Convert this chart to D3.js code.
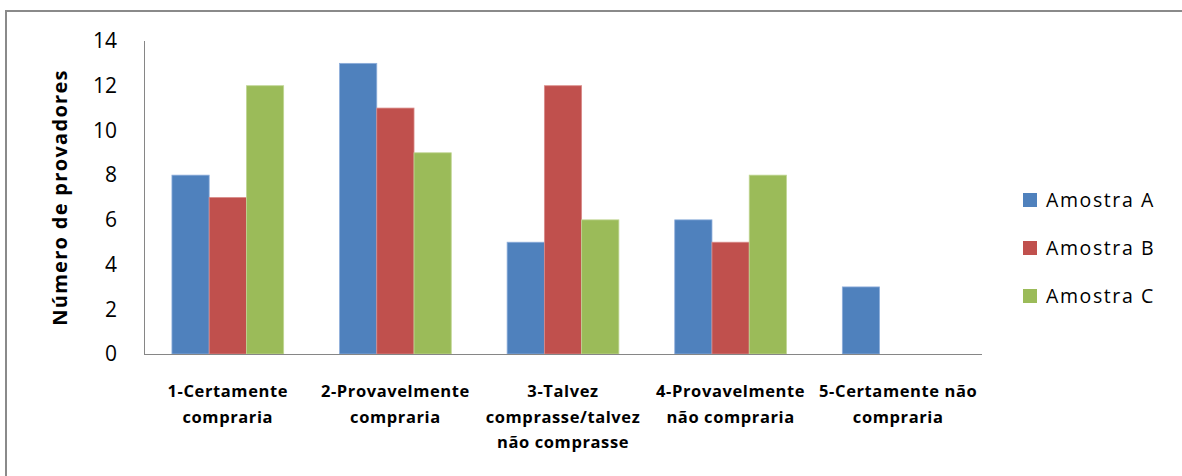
<!DOCTYPE html>
<html>
<head>
<meta charset="utf-8">
<script src="https://cdn.jsdelivr.net/npm/d3@7"></script>
<style>
  html, body { margin: 0; padding: 0; background: #fff; }
  svg { display: block; }
  text { font-family: "Open Sans", "Noto Sans", sans-serif; fill: #000; }
</style>
</head>
<body>
<svg id="chart" width="1182" height="476"></svg>
<script>
// Intenção de compra por amostra
const categories = [
  ["1-Certamente", "compraria"],
  ["2-Provavelmente", "compraria"],
  ["3-Talvez", "comprasse/talvez", "não comprasse"],
  ["4-Provavelmente", "não compraria"],
  ["5-Certamente não", "compraria"]
];
const seriesNames = ["Amostra A", "Amostra B", "Amostra C"];
const amostraA = [8, 13, 5, 6, 3];
const amostraB = [7, 11, 12, 5, 0];
const amostraC = [12, 9, 6, 8, 0];
const yTicks = [0, 2, 4, 6, 8, 10, 12, 14];
const colors = ["#4F81BD", "#C0504D", "#9BBB59"];
const edgeColors = ["#8eaedb", "#d98b89", "#c0d694"];

const series = [amostraA, amostraB, amostraC];
const svg = d3.select("#chart");

// chart frame
svg.append("rect")
  .attr("x", 6).attr("y", 11)
  .attr("width", 1200).attr("height", 500)
  .attr("fill", "none")
  .attr("stroke", "#8a8a8a")
  .attr("stroke-width", 2);

const plot = { left: 144, right: 982, top: 41, bottom: 354 };

const x = d3.scaleBand()
  .domain(d3.range(categories.length))
  .range([plot.left, plot.right])
  .paddingInner(0)
  .paddingOuter(0);

const x1 = d3.scaleBand()
  .domain(d3.range(seriesNames.length))
  .range([0, x.bandwidth()])
  .paddingOuter(0.75)
  .paddingInner(0);

const y = d3.scaleLinear().domain([0, 14]).range([plot.bottom, plot.top]);

// bars
const groups = svg.append("g").selectAll("g")
  .data(categories.map((c, i) => i))
  .join("g")
  .attr("transform", i => `translate(${x(i)},0)`);

groups.selectAll("rect")
  .data(i => series.map((s, k) => ({ k, v: s[i] })).filter(d => d.v > 0))
  .join("rect")
  .attr("x", d => x1(d.k))
  .attr("y", d => y(d.v))
  .attr("width", x1.bandwidth())
  .attr("height", d => y(0) - y(d.v))
  .attr("fill", d => colors[d.k])
  .attr("stroke", d => edgeColors[d.k])
  .attr("stroke-width", 0.8);

// y axis
const yAxis = svg.append("g")
  .attr("transform", `translate(${plot.left},0)`)
  .call(d3.axisLeft(y).tickValues(yTicks).tickSize(0).tickPadding(27));
yAxis.select(".domain").attr("stroke", "#868686").attr("stroke-width", 1)
  .attr("d", `M0.5,${plot.top}V${plot.bottom}`);
yAxis.selectAll(".tick text")
  .attr("font-family", "'Open Sans', sans-serif")
  .attr("font-size", 21)
  .attr("fill", "#000");

// x axis
const xAxis = svg.append("g")
  .attr("transform", `translate(0,${plot.bottom})`)
  .call(d3.axisBottom(x).tickSize(0).tickFormat(""));
xAxis.select(".domain").attr("stroke", "#868686").attr("stroke-width", 1)
  .attr("d", `M${plot.left},0.5H${plot.right}`);

// category labels
xAxis.selectAll(".tick").each(function (i) {
  const t = d3.select(this).append("text")
    .attr("text-anchor", "middle")
    .attr("font-family", "'Open Sans', sans-serif")
    .attr("font-weight", "bold")
    .attr("font-size", 16.5)
    .attr("letter-spacing", 0.6)
    .attr("fill", "#000");
  categories[i].forEach((line, j) => {
    t.append("tspan").attr("x", 0).attr("y", 43 + j * 25.5).text(line);
  });
});

// y axis title
svg.append("text")
  .attr("transform", `translate(67,${(plot.top + plot.bottom) / 2}) rotate(-90)`)
  .attr("text-anchor", "middle")
  .attr("font-weight", "bold")
  .attr("font-size", 20)
  .attr("letter-spacing", 1.3)
  .text("Número de provadores");

// legend
const legend = svg.append("g").selectAll("g")
  .data(seriesNames)
  .join("g")
  .attr("transform", (d, i) => `translate(1023,${200 + i * 48})`);
legend.append("rect")
  .attr("x", 0).attr("y", -7)
  .attr("width", 14).attr("height", 14)
  .attr("fill", (d, i) => colors[i]);
legend.append("text")
  .attr("x", 23).attr("y", 7)
  .attr("font-size", 19.5)
  .attr("letter-spacing", 1.6)
  .text(d => d);
</script>
</body>
</html>
